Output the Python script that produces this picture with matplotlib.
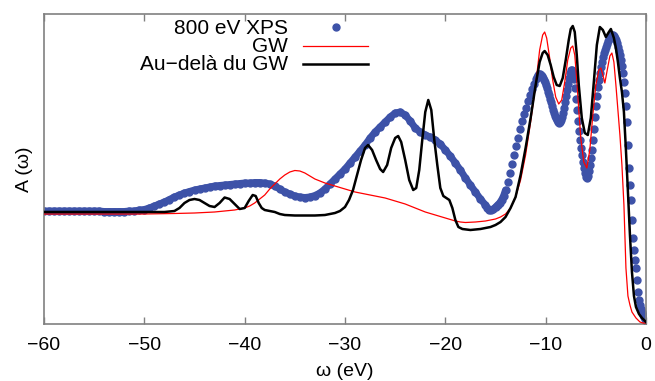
import numpy as np
import matplotlib
matplotlib.use("Agg")
import matplotlib.pyplot as plt

plt.rcParams['font.family'] = ['Liberation Sans', 'DejaVu Sans']

# values in pixel rows (row 324 = bottom of frame); A = (324 - row) / 100
def rows_to_a(rows):
    return (324.0 - np.asarray(rows, dtype=float)) / 100.0

# --- 800 eV XPS (dots) ---
xps_e = np.concatenate([np.linspace(-60, -16.5, 88),
                        np.linspace(-16, -11.2, 25),
                        np.linspace(-11, 0, 111)])
xps_rows = (
    [211] * 12 +
    [211.5, 211.5, 211.5, 211.5, 211.5, 211, 211, 210, 209.5, 208, 206, 204, 202,
     199.5, 197, 195, 193, 191.5, 190, 189, 188, 187, 186, 185.5, 185, 184.5, 184,
     183.5, 183, 183, 182.5, 182.5, 183, 184, 186, 189, 192, 194, 196, 197, 197.5,
     197, 195.5, 193, 189, 184, 179, 174, 169, 163, 157, 151, 145, 138, 132, 127,
     122, 117, 113, 112, 115, 121, 128, 132, 135, 137, 140, 144, 150, 156, 163,
     170, 178, 185, 192, 199] +
    [205, 208, 210, 210, 209, 207, 205, 203, 200, 196, 190, 182, 173, 164, 155,
     146, 138, 129, 121, 114, 108, 101, 95, 89, 84] +
    [79, 77, 75, 74, 74, 75, 76, 78, 80, 82, 85,
     88, 92, 95, 99, 102, 106, 110, 113, 116, 118,
     120, 122, 123, 122, 120, 117, 113, 108, 102, 96,
     90, 84, 78, 73, 70, 70, 73, 79, 88, 99,
     110, 121, 131, 140, 148, 155, 162, 168, 173, 177,
     178, 176, 171, 165, 158, 150, 140, 129, 117, 106,
     96, 87, 80, 73, 67, 62, 57, 53, 50, 47,
     44, 41, 39, 37, 36, 35, 35, 36, 38, 40,
     43, 47, 51, 55, 60, 66, 73, 82, 93, 106,
     122, 145, 168, 185, 200, 220, 238, 250, 260, 268,
     280, 292, 300, 305, 309, 312, 315, 317, 319, 321]
)
xps_a = rows_to_a(xps_rows)

# --- GW (red) ---
gw_e = [-60, -55, -50, -47, -45, -43, -41, -40, -39.5, -39, -38.5, -38, -37.5, -37,
        -36.5, -36, -35.5, -35, -34.5, -34, -33.5, -33, -32.5, -32, -31, -30, -29,
        -28, -27, -26, -25, -24, -23, -22, -21, -20, -19, -18.5, -18, -17, -16, -15,
        -14.5, -14, -13.5, -13, -12.5, -12, -11.5, -11, -10.6, -10.3, -10.1, -9.9,
        -9.6, -9.3, -9.0, -8.7, -8.4, -8.1, -7.8, -7.5, -7.3, -7.1, -6.9, -6.7,
        -6.5, -6.2, -5.9, -5.6, -5.3, -5.0, -4.7, -4.5, -4.3, -4.1, -3.9, -3.6,
        -3.4, -3.2, -3.0, -2.8, -2.6, -2.4, -2.2, -2.0, -1.8, -1.6, -1.4, -1.0,
        -0.6, -0.3, 0]
gw_rows = [214, 214, 214, 213.5, 213, 212, 210, 208, 206, 203, 199, 195, 189, 184,
           179, 175, 172, 170.5, 171, 173, 176, 179, 181, 183, 186, 189, 192,
           194, 196, 198, 201, 204, 208, 212, 215, 218, 221, 222, 222.5, 222, 221, 219,
           217, 214, 208, 197, 180, 155, 122, 85, 50, 35, 32, 38,
           58, 80, 97, 104, 100, 82, 60, 48, 46, 55, 80, 110,
           138, 162, 168, 150, 115, 85, 70, 68, 75, 83, 72, 56,
           53, 62, 85, 110, 135, 165, 205, 268, 296, 305, 312, 318,
           322, 323, 323]
gw_a = rows_to_a(gw_rows)

# --- beyond GW (black) ---
bgw_e = [-60, -55, -50, -48, -47, -46.5, -46, -45.5, -45, -44.5, -44, -43.5, -43,
         -42.5, -42, -41.5, -41, -40.5, -40, -39.6, -39.2, -38.9, -38.6, -38.3, -38,
         -37.5, -37, -36.5, -36, -35, -34, -33, -32, -31.5, -31, -30.5, -30, -29.6,
         -29.2, -28.8, -28.4, -28, -27.7, -27.3, -26.9, -26.5, -26.2, -25.8, -25.4,
         -25, -24.7, -24.4, -24, -23.6, -23.2, -22.9, -22.6, -22.3, -22, -21.7,
         -21.4, -21.1, -20.8, -20.5, -20.2, -19.9, -19.6, -19.3, -19, -18.7, -18.3,
         -17.5, -16.5, -15.5, -15, -14.5, -14, -13.5, -13, -12.5, -12, -11.5, -11,
         -10.6, -10.3, -10.1, -9.8, -9.5, -9.2, -8.9, -8.6, -8.3, -8, -7.7, -7.5,
         -7.3, -7.1, -6.9, -6.7, -6.4, -6.1, -5.8, -5.5, -5.2, -4.9, -4.6, -4.3,
         -4.0, -3.7, -3.5, -3.2, -3.0, -2.8, -2.6, -2.4, -2.2, -2.0, -1.8, -1.6,
         -1.4, -1.2, -1.0, -0.7, -0.4, -0.2, 0]
bgw_rows = [212, 212, 212, 212, 211, 208, 203, 200, 199, 200, 203, 206, 207,
            203, 197.5, 199, 204, 209, 208, 201, 195, 196, 203, 208, 210,
            211, 212, 214, 215, 215.5, 215.5, 215.5, 215, 214, 213, 211, 207, 200,
            190, 175, 160, 148, 145, 150, 160, 169, 172, 165, 148,
            138, 136, 142, 160, 180, 190, 188, 170, 140, 112, 100,
            110, 140, 165, 188, 196, 198, 200, 208, 220, 227, 229,
            230, 229, 227, 225, 222, 217, 208, 197, 175, 148, 118, 85,
            62, 53, 51, 55, 65, 77, 85, 86, 78, 60, 40, 29,
            26, 32, 55, 85, 118, 133, 135, 118, 82, 45, 27, 30,
            37, 32, 29, 38, 48, 62, 78, 92, 112, 150, 192, 235,
            272, 296, 307, 314, 318, 320, 322]
bgw_a = rows_to_a(bgw_rows)

xticks = [-60, -50, -40, -30, -20, -10, 0]

BLUE = '#3d52a8'
SPINE = '#808080'

fig = plt.figure(figsize=(6.55, 3.81), dpi=100)
ax = fig.add_axes([44 / 655, 57 / 381, 602 / 655, 310 / 381])

# where the measured points sit densely they merge into a band
dense = xps_e <= -14.0
ax.plot(xps_e[dense], xps_a[dense], color=BLUE, lw=5, solid_capstyle='round',
        solid_joinstyle='round', zorder=2)
ax.plot(xps_e, xps_a, ls='none', marker='o', ms=5, color=BLUE, mec=BLUE, zorder=2)
ax.plot(gw_e, gw_a, color='red', lw=0.9, zorder=3)
ax.plot(bgw_e, bgw_a, color='black', lw=1.8, zorder=4)

ax.set_xlim(-60, 0)
ax.set_ylim(0, 3.10)
ax.set_xticks(xticks)
ax.set_yticks([])
ax.tick_params(axis='x', direction='in', top=True, length=5, width=1,
               color=SPINE, labelsize=14, pad=9)
for s in ax.spines.values():
    s.set_color(SPINE)
    s.set_linewidth(1.2)

ax.set_xlabel('ω (eV)', fontsize=14, labelpad=7)
ax.set_ylabel('A (ω)', fontsize=14, labelpad=8)

# gnuplot-style key: text right-aligned, sample on the right
def ax_x(px):
    return (px - 44) / 602.0

def ax_y(py):
    return (324 - py) / 310.0

key = [('800 eV XPS', 28), ('GW', 46), ('Au−delà du GW', 64)]
for label, py in key:
    ax.text(ax_x(288), ax_y(py), label, transform=ax.transAxes,
            ha='right', va='center', fontsize=15)
ax.plot([ax_x(336)], [ax_y(27)], transform=ax.transAxes, ls='none',
        marker='o', ms=5, color=BLUE, clip_on=False)
ax.plot([ax_x(303), ax_x(368)], [ax_y(46)] * 2, transform=ax.transAxes,
        color='red', lw=0.9)
ax.plot([ax_x(303), ax_x(368)], [ax_y(64)] * 2, transform=ax.transAxes,
        color='black', lw=1.8)

fig.savefig('out.png', dpi=100)
